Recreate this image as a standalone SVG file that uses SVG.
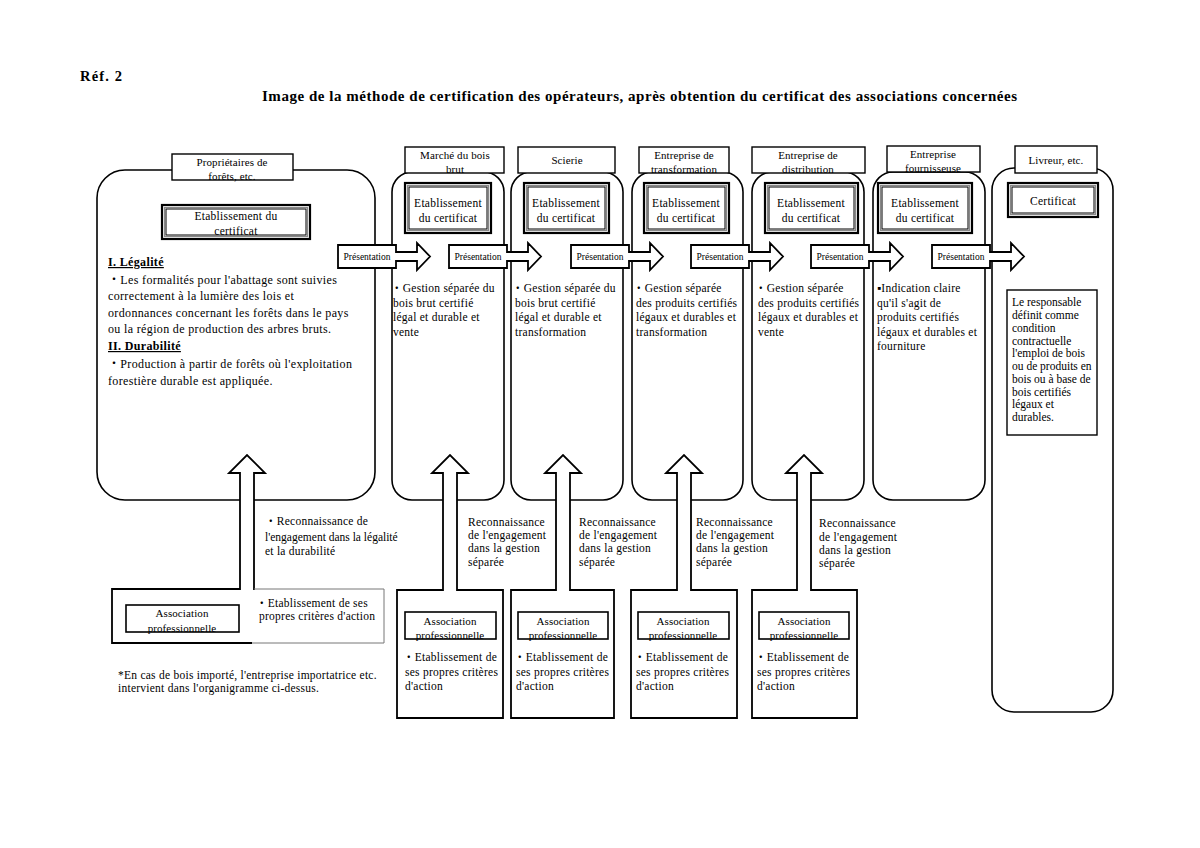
<svg xmlns="http://www.w3.org/2000/svg" width="1200" height="848" viewBox="0 0 1200 848">
<style>
text{font-family:"Liberation Serif","Noto Sans CJK JP",serif;fill:#000}
.t{font-size:12px;letter-spacing:0.35px}
.s{font-size:11.5px;letter-spacing:0.25px}
.n{font-size:11.5px;letter-spacing:0}
.h{font-size:11px;letter-spacing:0.1px}
.p{font-size:9.5px}
.b{font-weight:bold}
.u{text-decoration:underline}
.ttl{font-size:15px;font-weight:bold}
.col{fill:#fff;stroke:#000;stroke-width:1.6}
.hdr{fill:#fff;stroke:#000;stroke-width:1.4}
.e1{fill:#fff;stroke:#000;stroke-width:2.2}
.e2{fill:none;stroke:#888;stroke-width:1.2}
.e3{fill:none;stroke:#000;stroke-width:1}
.arr{fill:#fff;stroke:#000;stroke-width:1.8;stroke-linejoin:miter}
.ab{fill:none;stroke:#000;stroke-width:1.8}
.abt{fill:none;stroke:#777;stroke-width:1}
.ib{fill:#fff;stroke:#000;stroke-width:1.6}
.c{text-anchor:middle}
</style>
<rect width="1200" height="848" fill="#fff"/>
<text x="80" y="81" class="b" style="font-size:14.5px" textLength="42" lengthAdjust="spacing">Réf. 2</text>
<text x="262" y="101" class="ttl" textLength="755" lengthAdjust="spacing">Image de la méthode de certification des opérateurs, après obtention du certificat des associations concernées</text>

<!-- Node: forest owners -->
<g id="owners">
<rect x="97" y="170" width="278" height="330" rx="28" class="col"/>
<rect x="172" y="154" width="121" height="26" class="hdr"/>
<text x="232" y="166" class="h c">Propriétaires de</text>
<text x="232" y="180" class="h c">forêts, etc.</text>
<rect x="162" y="205" width="148" height="34" class="e1"/><rect x="164.5" y="207.5" width="143" height="29" class="e2"/><rect x="166" y="209" width="140" height="26" class="e3"/>
<text x="236" y="220" class="s c">Etablissement du</text>
<text x="236" y="235" class="s c">certificat</text>
<text x="108" y="266" class="t b u">I. Légalité</text>
<text x="108" y="284" class="t">・Les formalités pour l'abattage sont suivies</text>
<text x="108" y="300" class="t">correctement à la lumière des lois et</text>
<text x="108" y="317" class="t">ordonnances concernant les forêts dans le pays</text>
<text x="108" y="333" class="t">ou la région de production des arbres bruts.</text>
<text x="108" y="350" class="t b u">II. Durabilité</text>
<text x="108" y="368" class="t">・Production à partir de forêts où l'exploitation</text>
<text x="108" y="385" class="t">forestière durable est appliquée.</text>
</g>

<!-- Node: raw wood market -->
<g id="marche">
<rect x="392" y="172" width="112" height="328" rx="20" class="col"/>
<rect x="405" y="147" width="99" height="26" class="hdr"/>
<text x="455" y="159" class="h c">Marché du bois</text>
<text x="455" y="173" class="h c">brut</text>
<rect x="405" y="183" width="86" height="50" class="e1"/><rect x="407.5" y="185.5" width="81" height="45" class="e2"/><rect x="409" y="187" width="78" height="42" class="e3"/>
<text x="448" y="207" class="s c">Etablissement</text>
<text x="448" y="222" class="s c">du certificat</text>
<text x="391" y="292" class="s">・Gestion séparée du</text>
<text x="393" y="307" class="s">bois brut certifié</text>
<text x="393" y="321" class="s">légal et durable et</text>
<text x="393" y="336" class="s">vente</text>
</g>

<!-- Node: sawmill -->
<g id="scierie">
<rect x="511" y="172" width="112" height="328" rx="20" class="col"/>
<rect x="518" y="147" width="97" height="26" class="hdr"/>
<text x="567" y="164" class="h c">Scierie</text>
<rect x="524" y="183" width="85" height="50" class="e1"/><rect x="526.5" y="185.5" width="80" height="45" class="e2"/><rect x="528" y="187" width="77" height="42" class="e3"/>
<text x="566" y="207" class="s c">Etablissement</text>
<text x="566" y="222" class="s c">du certificat</text>
<text x="512" y="292" class="s">・Gestion séparée du</text>
<text x="515" y="307" class="s">bois brut certifié</text>
<text x="515" y="321" class="s">légal et durable et</text>
<text x="515" y="336" class="s">transformation</text>
</g>

<!-- Node: processing -->
<g id="transformation">
<rect x="632" y="172" width="111" height="328" rx="20" class="col"/>
<rect x="639" y="147" width="90" height="26" class="hdr"/>
<text x="684" y="159" class="h c">Entreprise de</text>
<text x="684" y="173" class="h c">transformation</text>
<rect x="644" y="183" width="85" height="50" class="e1"/><rect x="646.5" y="185.5" width="80" height="45" class="e2"/><rect x="648" y="187" width="77" height="42" class="e3"/>
<text x="686" y="207" class="s c">Etablissement</text>
<text x="686" y="222" class="s c">du certificat</text>
<text x="633" y="292" class="s">・Gestion séparée</text>
<text x="636" y="307" class="s">des produits certifiés</text>
<text x="636" y="321" class="s">légaux et durables et</text>
<text x="636" y="336" class="s">transformation</text>
</g>

<!-- Node: distribution -->
<g id="distribution">
<rect x="752" y="172" width="112" height="328" rx="20" class="col"/>
<rect x="752" y="147" width="113" height="26" class="hdr"/>
<text x="808" y="159" class="h c">Entreprise de</text>
<text x="808" y="173" class="h c">distribution</text>
<rect x="765" y="183" width="93" height="50" class="e1"/><rect x="767.5" y="185.5" width="88" height="45" class="e2"/><rect x="769" y="187" width="85" height="42" class="e3"/>
<text x="811" y="207" class="s c">Etablissement</text>
<text x="811" y="222" class="s c">du certificat</text>
<text x="755" y="292" class="s">・Gestion séparée</text>
<text x="758" y="307" class="s">des produits certifiés</text>
<text x="758" y="321" class="s">légaux et durables et</text>
<text x="758" y="336" class="s">vente</text>
</g>

<!-- Node: supplier -->
<g id="fournisseuse">
<rect x="873" y="172" width="112" height="328" rx="20" class="col"/>
<rect x="887" y="146" width="93" height="26" class="hdr"/>
<text x="933" y="158" class="h c">Entreprise</text>
<text x="933" y="172" class="h c">fournisseuse</text>
<rect x="878" y="183" width="94" height="50" class="e1"/><rect x="880.5" y="185.5" width="89" height="45" class="e2"/><rect x="882" y="187" width="86" height="42" class="e3"/>
<text x="925" y="207" class="s c">Etablissement</text>
<text x="925" y="222" class="s c">du certificat</text>
<text x="877" y="292" class="s">▪Indication claire</text>
<text x="877" y="307" class="s">qu'il s'agit de</text>
<text x="877" y="321" class="s">produits certifiés</text>
<text x="877" y="336" class="s">légaux et durables et</text>
<text x="877" y="350" class="s">fourniture</text>
</g>

<!-- Node: deliverer -->
<g id="livreur">
<rect x="992" y="168" width="121" height="544" rx="22" class="col"/>
<rect x="1015" y="146" width="82" height="27" class="hdr"/>
<text x="1056" y="164" class="h c">Livreur, etc.</text>
<rect x="1008" y="183" width="90" height="34" class="e1"/><rect x="1010.5" y="185.5" width="85" height="29" class="e2"/><rect x="1012" y="187" width="82" height="26" class="e3"/>
<text x="1053" y="205" class="s c">Certificat</text>
<rect x="1007" y="290" width="90" height="145" class="hdr"/>
<text x="1012" y="306" class="n">Le responsable</text>
<text x="1012" y="319" class="n">définit comme</text>
<text x="1012" y="332" class="n">condition</text>
<text x="1012" y="345" class="n">contractuelle</text>
<text x="1012" y="357" class="n">l'emploi de bois</text>
<text x="1012" y="370" class="n">ou de produits en</text>
<text x="1012" y="383" class="n">bois ou à base de</text>
<text x="1012" y="396" class="n">bois certifiés</text>
<text x="1012" y="408" class="n">légaux et</text>
<text x="1012" y="421" class="n">durables.</text>
</g>

<!-- Connectors -->
<g id="connectors">
<g id="presentations">
<path class="arr" d="M338,245 H396 V252 H417 V243 L430,256.5 L417,270 V261 H396 V268 H338 Z"/>
<text x="367" y="259.5" class="p c">Présentation</text>
<path class="arr" d="M449,245 H507 V252 H528 V243 L541,256.5 L528,270 V261 H507 V268 H449 Z"/>
<text x="478" y="259.5" class="p c">Présentation</text>
<path class="arr" d="M571,245 H629 V252 H650 V243 L663,256.5 L650,270 V261 H629 V268 H571 Z"/>
<text x="600" y="259.5" class="p c">Présentation</text>
<path class="arr" d="M691,245 H749 V252 H770 V243 L783,256.5 L770,270 V261 H749 V268 H691 Z"/>
<text x="720" y="259.5" class="p c">Présentation</text>
<path class="arr" d="M811,245 H869 V252 H890 V243 L903,256.5 L890,270 V261 H869 V268 H811 Z"/>
<text x="840" y="259.5" class="p c">Présentation</text>
<path class="arr" d="M932,245 H990 V252 H1011 V243 L1024,256.5 L1011,270 V261 H990 V268 H932 Z"/>
<text x="961" y="259.5" class="p c">Présentation</text>
</g>
<g id="recognitions">
<path class="arr" d="M240,590 V473 H229 L247,455 L265,473 H254 V590"/>
<path class="arr" d="M443,591 V473 H432 L450,455 L468,473 H457 V591"/>
<path class="arr" d="M556,591 V473 H545 L563,455 L581,473 H570 V591"/>
<path class="arr" d="M677,591 V473 H666 L684,455 L702,473 H691 V591"/>
<path class="arr" d="M797,591 V473 H786 L804,455 L822,473 H811 V591"/>
</g>
<text x="265" y="525" class="s">・Reconnaissance de</text>
<text x="265" y="541" class="n">l'engagement dans la légalité</text>
<text x="265" y="555" class="s">et la durabilité</text>
<text x="468" y="526" class="s">Reconnaissance</text>
<text x="468" y="539" class="s">de l'engagement</text>
<text x="468" y="552" class="s">dans la gestion</text>
<text x="468" y="566" class="s">séparée</text>
<text x="579" y="526" class="s">Reconnaissance</text>
<text x="579" y="539" class="s">de l'engagement</text>
<text x="579" y="552" class="s">dans la gestion</text>
<text x="579" y="566" class="s">séparée</text>
<text x="696" y="526" class="s">Reconnaissance</text>
<text x="696" y="539" class="s">de l'engagement</text>
<text x="696" y="552" class="s">dans la gestion</text>
<text x="696" y="566" class="s">séparée</text>
<text x="819" y="527" class="s">Reconnaissance</text>
<text x="819" y="541" class="s">de l'engagement</text>
<text x="819" y="554" class="s">dans la gestion</text>
<text x="819" y="567" class="s">séparée</text>
</g>

<!-- Associations -->
<g id="assoc-owners">
<path class="ab" d="M240,589 H112 V643 H252"/>
<path class="abt" d="M254,589 H384 V643 H252"/>
<rect x="126" y="605" width="113" height="27" class="ib"/>
<text x="182" y="617" class="h c">Association</text>
<text x="182" y="632" class="h c">professionnelle</text>
<text x="256" y="607" class="s">・Etablissement de ses</text>
<text x="259" y="620" class="s">propres critères d'action</text>
</g>
<g id="assoc-marche">
<path class="ab" d="M443,590 H397 V718 H503 V590 H457"/>
<rect x="405" y="612" width="91" height="27" class="ib"/>
<text x="450" y="625" class="h c">Association</text>
<text x="450" y="639" class="h c">professionnelle</text>
<text x="403" y="661" class="s">・Etablissement de</text>
<text x="405" y="676" class="s">ses propres critères</text>
<text x="405" y="690" class="s">d'action</text>
</g>
<g id="assoc-scierie">
<path class="ab" d="M556,590 H511 V718 H614 V590 H570"/>
<rect x="518" y="612" width="90" height="27" class="ib"/>
<text x="563" y="625" class="h c">Association</text>
<text x="563" y="639" class="h c">professionnelle</text>
<text x="514" y="661" class="s">・Etablissement de</text>
<text x="516" y="676" class="s">ses propres critères</text>
<text x="516" y="690" class="s">d'action</text>
</g>
<g id="assoc-transformation">
<path class="ab" d="M677,590 H631 V718 H737 V590 H691"/>
<rect x="638" y="612" width="91" height="27" class="ib"/>
<text x="683" y="625" class="h c">Association</text>
<text x="683" y="639" class="h c">professionnelle</text>
<text x="634" y="661" class="s">・Etablissement de</text>
<text x="636" y="676" class="s">ses propres critères</text>
<text x="636" y="690" class="s">d'action</text>
</g>
<g id="assoc-distribution">
<path class="ab" d="M797,590 H752 V718 H857 V590 H811"/>
<rect x="759" y="612" width="90" height="27" class="ib"/>
<text x="804" y="625" class="h c">Association</text>
<text x="804" y="639" class="h c">professionnelle</text>
<text x="755" y="661" class="s">・Etablissement de</text>
<text x="757" y="676" class="s">ses propres critères</text>
<text x="757" y="690" class="s">d'action</text>
</g>

<text x="118" y="679" class="s">*En cas de bois importé, l'entreprise importatrice etc.</text>
<text x="118" y="692" class="s">intervient dans l'organigramme ci-dessus.</text>
</svg>
